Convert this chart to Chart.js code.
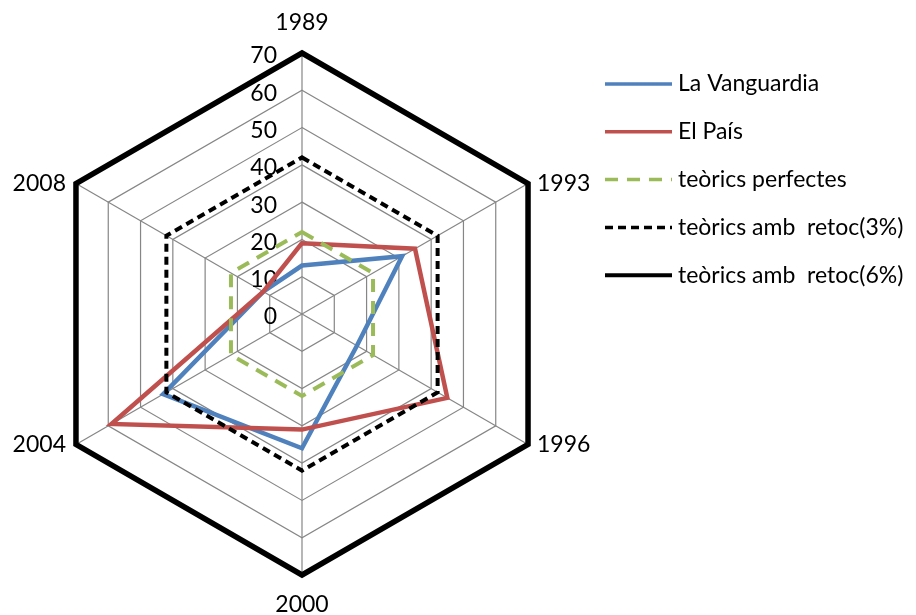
<!DOCTYPE html>
<html><head><meta charset="utf-8">
<script src="https://cdn.jsdelivr.net/npm/chart.js@4/dist/chart.umd.min.js"></script>
<style>html,body{margin:0;padding:0;background:#fff;}#wrap{position:relative;width:916px;height:615px;}</style>
</head><body><div id="wrap"><canvas id="c" width="916" height="615"></canvas></div>
<script>
const years = ['1989', '1993', '1996', '2000', '2004', '2008'];
const laVanguardia = [13, 31, 17, 36, 43, 12];
const elPais = [19, 35, 45, 31, 59, 12];
const teoricsPerfectes = [22, 22, 22, 22, 22, 22];
const teoricsRetoc3 = [42, 42, 42, 42, 42, 42];
const teoricsRetoc6 = [70, 70, 70, 70, 70, 70];
const seriesNames = ['La Vanguardia', 'El País', 'teòrics perfectes', 'teòrics amb  retoc(3%)', 'teòrics amb  retoc(6%)'];
const scaleMin = 0, scaleMax = 70, scaleStep = 10;

const FONT = '23px Lato';

const excelLabels = {
  id: 'excelLabels',
  beforeDatasetsDraw(chart) {
    const s = chart.scales.r, ctx = chart.ctx;
    ctx.save();
    ctx.font = FONT; ctx.fillStyle = '#000';
    ctx.textAlign = 'right'; ctx.textBaseline = 'middle';
    s.ticks.forEach(t => {
      const d = s.getDistanceFromCenterForValue(t.value);
      ctx.fillText(t.label, s.xCenter - 25, s.yCenter - d + 3);
    });
    ctx.restore();
  },
  afterDraw(chart) {
    const s = chart.scales.r, ctx = chart.ctx;
    ctx.save();
    ctx.font = FONT; ctx.fillStyle = '#000'; ctx.textBaseline = 'middle';
    chart.data.labels.forEach((lab, i) => {
      const p = s.getPointPosition(i, s.drawingArea);
      const a = s.getIndexAngle(i);
      const sx = Math.sin(a), cy = -Math.cos(a);
      if (Math.abs(sx) < 0.01) {
        ctx.textAlign = 'center';
        ctx.fillText(lab, p.x, p.y + (cy < 0 ? -30 : 30));
      } else {
        ctx.textAlign = sx > 0 ? 'left' : 'right';
        ctx.fillText(lab, p.x + (sx > 0 ? 9 : -10), p.y);
      }
    });
    // legend
    const lx0 = 605, lx1 = 672, tx = 678, y0 = 84, dy = 47.8;
    chart.data.datasets.forEach((ds, i) => {
      const y = y0 + i * dy;
      ctx.save();
      ctx.strokeStyle = ds.borderColor;
      ctx.lineWidth = ds.legendWidth;
      ctx.setLineDash(ds.borderDash || []);
      ctx.beginPath(); ctx.moveTo(lx0, y); ctx.lineTo(lx1, y); ctx.stroke();
      ctx.restore();
      ctx.textAlign = 'left';
      ctx.fillText(ds.label, tx, y);
    });
    ctx.restore();
  }
};

const mk = (label, data, color, width, dash, order, lw) => ({
  label, data, borderColor: color, backgroundColor: color, borderWidth: width,
  borderDash: dash, fill: false, pointRadius: 0, pointHoverRadius: 0, tension: 0,
  borderJoinStyle: 'miter', order, legendWidth: lw
});

new Chart(document.getElementById('c'), {
  type: 'radar',
  data: {
    labels: years,
    datasets: [
      mk(seriesNames[0], laVanguardia, '#4F81BD', 4.5, [], 5, 3.5),
      mk(seriesNames[1], elPais, '#C0504D', 4.5, [], 4, 3.5),
      mk(seriesNames[2], teoricsPerfectes, '#9BBB59', 4, [13, 9], 3, 3.5),
      mk(seriesNames[3], teoricsRetoc3, '#000000', 4, [8, 5], 2, 3.5),
      mk(seriesNames[4], teoricsRetoc6, '#000000', 5.5, [], 1, 4)
    ]
  },
  options: {
    responsive: false, animation: false, devicePixelRatio: 1,
    layout: { padding: { left: 41, right: 353, top: 53, bottom: 40 } },
    plugins: { legend: { display: false }, tooltip: { enabled: false } },
    scales: {
      r: {
        min: scaleMin, max: scaleMax,
        ticks: { stepSize: scaleStep, display: false, showLabelBackdrop: false },
        pointLabels: { display: false },
        grid: { color: '#868686', lineWidth: 1.2 },
        angleLines: { color: '#868686', lineWidth: 1.2 }
      }
    }
  },
  plugins: [excelLabels]
});
</script></body></html>
